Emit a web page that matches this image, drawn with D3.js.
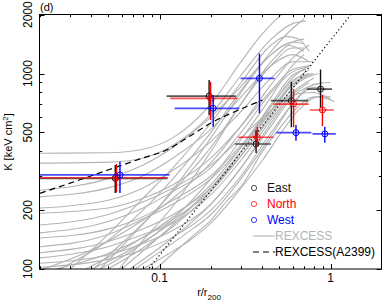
<!DOCTYPE html>
<html><head><meta charset="utf-8">
<script src="https://cdn.jsdelivr.net/npm/d3@7"></script>
<style>body{margin:0;background:#fff}svg{display:block}text{font-family:"Liberation Sans",Arial,Helvetica,sans-serif}</style>
</head><body><svg id="c" width="382" height="301"></svg>
<script>
// ---- data (r/r200, K [keV cm^2]) ----
const xMajor = [0.1, 1];
const xMinor = [0.02,0.03,0.04,0.05,0.06,0.07,0.08,0.09,0.2,0.3,0.4,0.5,0.6,0.7,0.8,0.9,2];
const yMajor = [100, 200, 500, 1000, 2000];
const yMinor = [300, 400, 600, 700, 800, 900];

// REXCESS profiles: each is a list of [r, K] points
const rexcessCurves = [
  // upper bundle
  [[0.02,391],[0.05,393],[0.08,410],[0.12,470],[0.2,700],[0.3,1150],[0.4,1600],[0.5,1950],[0.58,2150]],
  [[0.02,348],[0.05,352],[0.08,370],[0.12,430],[0.2,620],[0.3,980],[0.45,1500],[0.6,1800],[0.72,1850]],
  [[0.03,100],[0.05,150],[0.08,230],[0.12,330],[0.2,560],[0.3,900],[0.45,1400],[0.55,1550],[0.65,1500],[0.75,1300]],
  [[0.02,253],[0.05,290],[0.08,340],[0.12,420],[0.2,600],[0.3,860],[0.45,1250],[0.6,1450],[0.7,1420]],
  [[0.045,100],[0.07,150],[0.1,210],[0.15,330],[0.2,470],[0.3,800],[0.45,1300],[0.6,1700],[0.7,1900]],
  [[0.02,234],[0.05,260],[0.08,300],[0.12,370],[0.2,520],[0.3,760],[0.45,1100],[0.6,1250],[0.75,1150]],
  [[0.058,100],[0.08,140],[0.12,210],[0.2,400],[0.3,700],[0.45,1150],[0.6,1450],[0.7,1500]],
  [[0.02,205],[0.05,225],[0.08,260],[0.12,320],[0.2,450],[0.3,640],[0.45,950],[0.6,1150],[0.8,1150]],
  [[0.041,100],[0.06,135],[0.09,190],[0.12,250],[0.2,420],[0.3,700],[0.45,1100],[0.6,1350],[0.7,1350]],
  [[0.026,100],[0.05,140],[0.08,200],[0.12,290],[0.2,500],[0.3,820],[0.45,1250],[0.55,1400],[0.7,1300]],
  // middle bundle
  [[0.02,193],[0.05,205],[0.08,230],[0.12,270],[0.2,370],[0.3,540],[0.45,820],[0.6,1050],[0.78,1100]],
  [[0.02,168],[0.05,190],[0.08,220],[0.12,260],[0.2,340],[0.3,470],[0.45,650],[0.6,780],[0.8,800],[1.0,740]],
  [[0.02,153],[0.05,175],[0.08,205],[0.12,250],[0.2,330],[0.3,500],[0.45,800],[0.6,1020],[0.75,1080]],
  [[0.02,144],[0.05,160],[0.08,185],[0.12,225],[0.2,300],[0.3,430],[0.45,650],[0.6,870],[0.78,1000]],
  [[0.02,130],[0.05,150],[0.08,180],[0.12,215],[0.2,290],[0.3,420],[0.45,680],[0.6,950],[0.75,1100]],
  [[0.02,121],[0.05,138],[0.08,160],[0.12,190],[0.2,260],[0.3,380],[0.45,600],[0.65,900],[0.85,1000]],
  [[0.02,114],[0.05,130],[0.08,150],[0.12,172],[0.2,240],[0.3,360],[0.45,580],[0.6,800],[0.8,950]],
  [[0.02,107],[0.05,118],[0.08,135],[0.12,158],[0.2,215],[0.3,330],[0.45,540],[0.6,760],[0.9,900]],
  [[0.02,102],[0.05,112],[0.08,125],[0.12,146],[0.2,200],[0.3,300],[0.45,500],[0.6,700],[0.8,850],[0.95,830]],
  [[0.025,100],[0.05,120],[0.08,145],[0.12,180],[0.2,250],[0.3,380],[0.45,620],[0.6,880],[0.75,1000]],
  [[0.037,100],[0.06,125],[0.09,155],[0.12,185],[0.2,270],[0.3,420],[0.45,700],[0.6,980],[0.72,1050]],
  [[0.05,100],[0.08,128],[0.12,165],[0.2,250],[0.3,400],[0.45,680],[0.6,920],[0.75,1000]],
  [[0.02,85],[0.04,100],[0.07,128],[0.12,175],[0.2,260],[0.3,400],[0.45,650],[0.6,900],[0.75,1050]],
  [[0.02,75],[0.04,95],[0.07,125],[0.12,180],[0.2,290],[0.3,460],[0.45,760],[0.6,1100],[0.7,1250]],
  [[0.021,100],[0.04,125],[0.07,165],[0.12,230],[0.2,350],[0.3,540],[0.45,880],[0.6,1200],[0.75,1400]],
  // lower bundle
  [[0.067,100],[0.09,120],[0.12,145],[0.2,215],[0.3,330],[0.45,560],[0.6,780],[0.75,900]],
  [[0.072,100],[0.1,122],[0.14,150],[0.2,190],[0.3,290],[0.45,480],[0.6,700],[0.8,880],[1.0,900]],
  [[0.08,100],[0.11,118],[0.15,140],[0.2,172],[0.3,260],[0.4,360],[0.5,480],[0.65,650],[0.85,760],[1.05,720]],
  [[0.095,100],[0.12,120],[0.16,150],[0.2,178],[0.25,225],[0.3,265],[0.4,400],[0.5,520],[0.65,680],[0.8,760],[1.0,760]],
  [[0.06,100],[0.09,135],[0.13,180],[0.2,260],[0.3,400],[0.45,640],[0.6,880],[0.8,1000]]
];
// REXCESS (A2399) dashed profile
const a2399R = [0.02, 0.03, 0.05, 0.08, 0.11, 0.15, 0.2, 0.3, 0.4];
const a2399K = [244, 275, 321, 370, 406, 478, 558, 659, 731];
// baseline (dotted), two end points
const baseR = [0.087, 1.31];
const baseK = [101, 1990];

// observations: [r, K, rLow, rHigh, KLow, KHigh]
const eastPts = [
  [0.0551,291,0.015,0.1115,245,340],
  [0.195,767,0.11,0.28,614,926],
  [0.367,436,0.276,0.448,392,514],
  [0.59,726,0.448,0.739,531,908],
  [0.874,833,0.729,1.02,672,1050]
];
const northPts = [
  [0.056,293,0.015,0.1115,246,344],
  [0.199,747,0.1156,0.285,578,908],
  [0.373,472,0.289,0.464,421,532],
  [0.608,698,0.464,0.746,531,830],
  [0.897,651,0.756,1.045,539,776]
];
const westPts = [
  [0.0587,303,0.015,0.1145,245,354],
  [0.206,664,0.1225,0.293,534,776],
  [0.384,945,0.298,0.47,626,1268],
  [0.628,498,0.481,0.773,453,545],
  [0.926,491,0.784,1.074,443,534]
];
const seriesNames = ["East","North","West"];
const seriesColors = ["#111111","#ff0000","#0000ff"];
const legendLines = ["REXCESS","REXCESS(A2399)"];

// ---- drawing ----
const svg = d3.select("#c");
const L=39.5, R=381.5, T=14.5, B=269;
const x = d3.scaleLog().domain([0.02,2]).range([40,382]);
const y = d3.scaleLog().domain([100,2000]).range([269,14.7]);

svg.append("defs").append("clipPath").attr("id","clip")
  .append("rect").attr("x",L).attr("y",T).attr("width",R-L).attr("height",B-T);
const plot = svg.append("g").attr("clip-path","url(#clip)");

const line = d3.line().x(d=>x(d[0])).y(d=>y(d[1])).curve(d3.curveMonotoneX);
rexcessCurves.forEach(c=>{
  plot.append("path").attr("d",line(c)).attr("fill","none")
    .attr("stroke","#b4b4b4").attr("stroke-width",1.1);
});
plot.append("path").attr("d",d3.line().x(d=>x(d[0])).y(d=>y(d[1]))(baseR.map((r,i)=>[r,baseK[i]])))
  .attr("fill","none").attr("stroke","#000").attr("stroke-width",1.2).attr("stroke-dasharray","1.2,2.6");
plot.append("path").attr("d",line(a2399R.map((r,i)=>[r,a2399K[i]])))
  .attr("fill","none").attr("stroke","#000").attr("stroke-width",1.2).attr("stroke-dasharray","6,4");

[eastPts,northPts,westPts].forEach((pts,si)=>{
  const col = seriesColors[si];
  const g = plot.append("g");
  pts.forEach(p=>{
    g.append("line").attr("x1",x(p[2])).attr("x2",x(p[3])).attr("y1",y(p[1])).attr("y2",y(p[1]))
      .attr("stroke",col).attr("stroke-width",1.7).attr("stroke-opacity",0.7);
    g.append("line").attr("x1",x(p[0])).attr("x2",x(p[0])).attr("y1",y(p[4])).attr("y2",y(p[5]))
      .attr("stroke",col).attr("stroke-width",1.4);
    g.append("circle").attr("cx",x(p[0])).attr("cy",y(p[1])).attr("r",3)
      .attr("fill","none").attr("stroke",col).attr("stroke-width",1);
  });
});

// frame
svg.append("rect").attr("x",L).attr("y",T).attr("width",R-L).attr("height",B-T)
  .attr("fill","none").attr("stroke","#000").attr("stroke-width",1);

// ticks (inward, all sides)
const tk = svg.append("g").attr("stroke","#000").attr("stroke-width",1);
function xt(v,len){ const px=Math.round(x(v))+0.5;
  tk.append("line").attr("x1",px).attr("x2",px).attr("y1",B).attr("y2",B-len);
  tk.append("line").attr("x1",px).attr("x2",px).attr("y1",T).attr("y2",T+len); }
function yt(v,len){ const py=Math.round(y(v))+0.5;
  tk.append("line").attr("x1",L).attr("x2",L+len).attr("y1",py).attr("y2",py);
  tk.append("line").attr("x1",R).attr("x2",R-len).attr("y1",py).attr("y2",py); }
xMajor.forEach(v=>xt(v,5)); xMinor.forEach(v=>xt(v,2.7));
yMajor.forEach(v=>yt(v,5)); yMinor.forEach(v=>yt(v,2.7));

// tick labels
xMajor.forEach(v=>svg.append("text").attr("x",x(v)).attr("y",282).attr("text-anchor","middle")
  .attr("font-size",12).text(d3.format("")(v)));
yMajor.forEach(v=>svg.append("text").attr("transform",`translate(32,${y(v)}) rotate(-90)`)
  .attr("text-anchor","middle").attr("font-size",12).text(v));

// titles
const xt1 = svg.append("text").attr("x",209).attr("y",296).attr("text-anchor","middle").attr("font-size",11);
xt1.append("tspan").text("r/r");
xt1.append("tspan").attr("font-size",8).attr("dy",3.5).text("200");
const yt1 = svg.append("text").attr("transform","translate(12,142) rotate(-90)").attr("text-anchor","middle").attr("font-size",11);
yt1.append("tspan").text("K [keV cm");
yt1.append("tspan").attr("font-size",8).attr("dy",-4).text("2");
yt1.append("tspan").attr("dy",4).text("]");
svg.append("text").attr("x",40).attr("y",11).attr("font-size",11).text("(d)");

// legend
const lg = svg.append("g");
seriesNames.forEach((n,i)=>{
  const yy = 188 + i*16;
  lg.append("circle").attr("cx",254).attr("cy",yy).attr("r",2.6).attr("fill","none")
    .attr("stroke",seriesColors[i]).attr("stroke-opacity",0.75).attr("stroke-width",1);
  lg.append("text").attr("x",267).attr("y",yy+4.3).attr("font-size",12)
    .attr("fill",seriesColors[i]).text(n);
});
lg.append("line").attr("x1",253).attr("x2",275).attr("y1",236).attr("y2",236)
  .attr("stroke","#b4b4b4").attr("stroke-width",1.1);
lg.append("text").attr("x",275).attr("y",240.3).attr("font-size",12).attr("fill","#b4b4b4").text(legendLines[0]);
lg.append("line").attr("x1",253).attr("x2",275).attr("y1",252).attr("y2",252)
  .attr("stroke","#000").attr("stroke-width",1.2).attr("stroke-dasharray","6,4");
lg.append("text").attr("x",275).attr("y",256.3).attr("font-size",12).attr("fill","#000").text(legendLines[1]);
</script></body></html>
